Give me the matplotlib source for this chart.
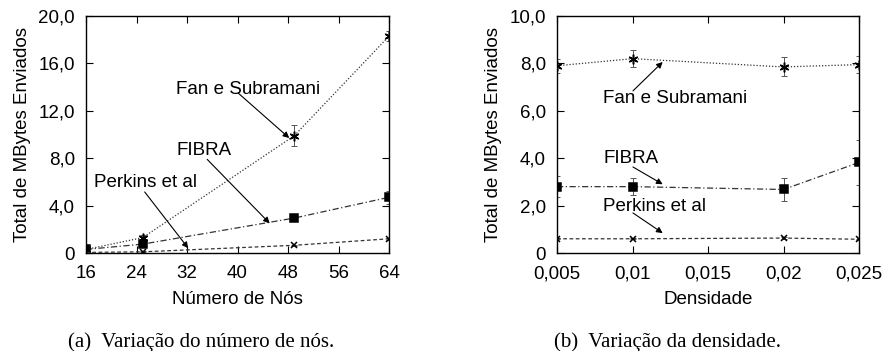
import matplotlib
matplotlib.use("Agg")
import matplotlib.pyplot as plt
from matplotlib.ticker import FuncFormatter, FixedLocator

plt.rcParams['font.family'] = ['Liberation Sans', 'DejaVu Sans']

# ---- data: panel (a) ----
nodes = [16, 25, 49, 64]
fan_a = [0.3, 1.3, 9.9, 18.3]
fan_a_err = [0.1, 0.2, 0.9, 0.45]
fibra_a = [0.3, 0.75, 2.95, 4.7]
fibra_a_err = [0.05, 0.1, 0.15, 0.55]
perk_a = [0.05, 0.1, 0.65, 1.2]
perk_a_err = [0.02, 0.03, 0.05, 0.08]
xticks_a = [16, 24, 32, 40, 48, 56, 64]
yticks_a = [0, 4, 8, 12, 16, 20]

# ---- data: panel (b) ----
dens = [0.005, 0.01, 0.02, 0.025]
fan_b = [7.9, 8.2, 7.85, 7.95]
fan_b_err = [0.3, 0.37, 0.4, 0.35]
fibra_b = [2.8, 2.8, 2.68, 3.82]
fibra_b_err = [0.45, 0.35, 0.5, 0.95]
perk_b = [0.6, 0.6, 0.63, 0.58]
perk_b_err = [0.03, 0.03, 0.03, 0.03]
xticks_b = [0.005, 0.01, 0.015, 0.02, 0.025]
xticklabels_b = ["0,005", "0,01", "0,015", "0,02", "0,025"]
yticks_b = [0, 2, 4, 6, 8, 10]

FS = 13.5

fig = plt.figure(figsize=(8.85, 3.51), dpi=100)
ax1 = fig.add_axes([86/885, 1-253/351, (389-86)/885, (253-16)/351])
ax2 = fig.add_axes([557/885, 1-253/351, (859-557)/885, (253-16)/351])

def yfmt(v, p):
    return "0" if abs(v) < 1e-9 else ("%.1f" % v).replace(".", ",")

def style(ax):
    ax.tick_params(direction='in', top=True, right=True, length=5, width=0.8,
                   labelsize=FS)
    ax.tick_params(axis='x', pad=9)
    ax.tick_params(axis='y', pad=8)
    for s in ax.spines.values():
        s.set_linewidth(1.0)
    ax.yaxis.set_major_formatter(FuncFormatter(yfmt))

def series(ax, x, y, e, marker, ls, ms, mfc='black'):
    ax.errorbar(x, y, yerr=e, fmt='none', ecolor='#555555', elinewidth=0.7,
                capsize=2, capthick=0.7, zorder=2)
    ax.plot(x, y, color='#333333', linestyle=ls, linewidth=0.9,
            marker=marker, markersize=ms, markerfacecolor=mfc,
            markeredgecolor='black', markeredgewidth=1.1, zorder=3)

dot = (0, (1, 1.5))
dashdot = (0, (5, 2, 1, 2))
dash = (0, (3, 2))

ap = dict(arrowstyle='-|>', color='black', lw=0.8, mutation_scale=9,
          shrinkA=0, shrinkB=0)

# panel (a)
series(ax1, nodes, fan_a, fan_a_err, (6, 2, 0), dot, 7)
series(ax1, nodes, fibra_a, fibra_a_err, 's', dashdot, 5.5)
series(ax1, nodes, perk_a, perk_a_err, 'x', dash, 5)
ax1.set_xlim(16, 64)
ax1.set_ylim(0, 20)
ax1.set_xticks(xticks_a)
ax1.set_yticks(yticks_a)
style(ax1)
ax1.set_xlabel("Número de Nós", fontsize=FS, labelpad=6)
ax1.set_ylabel("Total de MBytes Enviados", fontsize=FS, labelpad=5)

ax1.text(30.26, 13.76, "Fan e Subramani", fontsize=FS, ha='left', va='center')
ax1.annotate("", xy=(48.2, 9.7), xytext=(40.1, 13.5), arrowprops=ap)
ax1.text(30.26, 8.69, "FIBRA", fontsize=FS, ha='left', va='center')
ax1.annotate("", xy=(45.1, 2.5), xytext=(35.2, 7.9), arrowprops=ap)
ax1.text(17.27, 5.91, "Perkins et al", fontsize=FS, ha='left', va='center')
ax1.annotate("", xy=(32.2, 0.4), xytext=(25.3, 5.15), arrowprops=ap)

# panel (b)
series(ax2, dens, fan_b, fan_b_err, (6, 2, 0), dot, 7)
series(ax2, dens, fibra_b, fibra_b_err, 's', dashdot, 5.5)
series(ax2, dens, perk_b, perk_b_err, 'x', dash, 5)
ax2.set_xlim(0.005, 0.025)
ax2.set_ylim(0, 10)
ax2.xaxis.set_major_locator(FixedLocator(xticks_b))
ax2.set_yticks(yticks_b)
style(ax2)
ax2.set_xticklabels(xticklabels_b)
ax2.set_xlabel("Densidade", fontsize=FS, labelpad=6)
ax2.set_ylabel("Total de MBytes Enviados", fontsize=FS, labelpad=5)

ax2.text(0.00805, 6.54, "Fan e Subramani", fontsize=FS, va='center', ha='left')
ax2.annotate("", xy=(0.0120, 8.06), xytext=(0.01003, 6.84), arrowprops=ap)
ax2.text(0.00805, 3.97, "FIBRA", fontsize=FS, va='center', ha='left')
ax2.annotate("", xy=(0.0120, 2.9), xytext=(0.01003, 3.63), arrowprops=ap)
ax2.text(0.00805, 1.95, "Perkins et al", fontsize=FS, va='center', ha='left')
ax2.annotate("", xy=(0.0120, 0.84), xytext=(0.01003, 1.69), arrowprops=ap)

# captions
serif = ['Liberation Serif', 'DejaVu Serif']
fig.text(201/885, 1-342/351, "(a)  Variação do número de nós.", ha='center',
         va='center', fontsize=15, family=serif)
fig.text(668/885, 1-342/351, "(b)  Variação da densidade.", ha='center',
         va='center', fontsize=15, family=serif)

fig.savefig("out.png", dpi=100)
